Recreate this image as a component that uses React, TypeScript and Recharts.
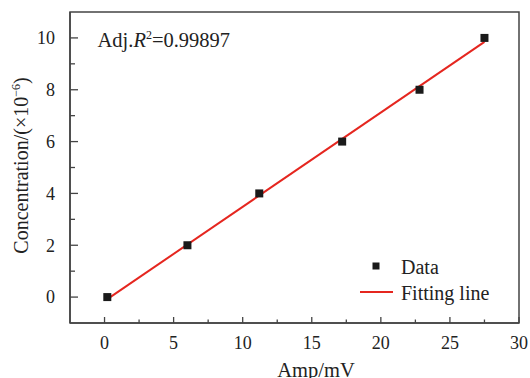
import React from 'react';
import { ComposedChart, Scatter, Line, XAxis, YAxis, ReferenceArea } from 'recharts';

// measured points
const ampValues = [0.2, 6.0, 11.2, 17.2, 22.8, 27.5];
const concValues = [0, 2, 4, 6, 8, 10];
// fitted line ends
const fitAmp = [0.2, 27.5];
const fitConc = [-0.08, 9.85];

const xMajorTicks = [0, 5, 10, 15, 20, 25, 30];
const xMinorTicks = [2.5, 7.5, 12.5, 17.5, 22.5, 27.5];
const yMajorTicks = [0, 2, 4, 6, 8, 10];
const yMinorTicks = [1, 3, 5, 7, 9];

const AXIS = '#444';
const RED = '#e5261f';
const FONT = '"Liberation Serif", "Times New Roman", serif';

const scatterData = ampValues.map((x, i) => ({ x, y: concValues[i] }));
const fitData = fitAmp.map((x, i) => ({ x, y: fitConc[i] }));
const xTicks = [...xMajorTicks, ...xMinorTicks].sort((a, b) => a - b);
const yTicks = [...yMajorTicks, ...yMinorTicks].sort((a, b) => a - b);

const XTick = (props: any) => {
  const { x, y, payload } = props;
  const major = xMajorTicks.includes(payload.value);
  return (
    <g>
      <line x1={x} x2={x} y1={y} y2={y - (major ? 6 : 3.5)} stroke={AXIS} strokeWidth={1.3} />
      {major && (
        <text x={x} y={y + 26} textAnchor="middle" fontSize={18} fill="#222" style={{ fontFamily: FONT }}>
          {payload.value}
        </text>
      )}
    </g>
  );
};

const YTick = (props: any) => {
  const { x, y, payload } = props;
  const major = yMajorTicks.includes(payload.value);
  return (
    <g>
      <line x1={x} x2={x + (major ? 8 : 5)} y1={y} y2={y} stroke={AXIS} strokeWidth={1.3} />
      {major && (
        <text x={x - 15} y={y + 6.4} textAnchor="end" fontSize={18} fill="#222" style={{ fontFamily: FONT }}>
          {payload.value}
        </text>
      )}
    </g>
  );
};

const SquareDot = (props: any) => {
  const { cx, cy } = props;
  return <rect x={cx - 4} y={cy - 4} width={8} height={8} fill="#1a1a1a" />;
};

export default function App() {
  return (
    <div style={{ position: 'absolute', left: 0, top: 0, width: 530, height: 378, fontFamily: FONT, background: '#fff' }}>
      <ComposedChart width={530} height={378} margin={{ top: 12, right: 11, left: 0, bottom: 0 }}>
        <XAxis
          dataKey="x"
          type="number"
          domain={[-2.5, 30]}
          ticks={xTicks}
          interval={0}
          height={55}
          tickSize={0}
          tickMargin={0}
          tickLine={false}
          axisLine={{ stroke: AXIS, strokeWidth: 1.5 }}
          tick={<XTick />}
          allowDataOverflow
        />
        <YAxis
          dataKey="y"
          type="number"
          domain={[-1, 11]}
          ticks={yTicks}
          interval={0}
          width={70}
          tickSize={0}
          tickMargin={0}
          tickLine={false}
          axisLine={{ stroke: AXIS, strokeWidth: 1.5 }}
          tick={<YTick />}
          allowDataOverflow
        />
        <ReferenceArea x1={-2.5} x2={30} y1={-1} y2={11} fill="none" stroke={AXIS} strokeWidth={1.5} />
        <Line
          data={fitData}
          dataKey="y"
          name="Fitting line"
          stroke={RED}
          strokeWidth={2}
          dot={false}
          isAnimationActive={false}
        />
        <Scatter
          data={scatterData}
          dataKey="y"
          name="Data"
          shape={<SquareDot />}
          isAnimationActive={false}
        />
      </ComposedChart>
      <svg
        width={530}
        height={378}
        style={{ position: 'absolute', left: 0, top: 0, pointerEvents: 'none', fontFamily: FONT }}
      >
        <text x={97.5} y={46.5} fontSize={20.5} fill="#222">
          Adj.<tspan fontStyle="italic">R</tspan>
          <tspan dy={-8} fontSize={12}>2</tspan>
          <tspan dy={8}>=0.99897</tspan>
        </text>
        <text transform="translate(27.5, 165.5) rotate(-90)" textAnchor="middle" fontSize={20} fill="#222">
          Concentration/(×10<tspan dy={-8} fontSize={12}>−6</tspan>
          <tspan dy={8}>)</tspan>
        </text>
        <text x={316} y={377} textAnchor="middle" fontSize={20.5} fill="#222">
          Amp/mV
        </text>
        {/* legend */}
        <rect x={372.5} y={262.5} width={7} height={7} fill="#1a1a1a" />
        <text x={401} y={274} fontSize={20} fill="#222">Data</text>
        <line x1={360} x2={393} y1={292} y2={292} stroke={RED} strokeWidth={2} />
        <text x={401} y={300} fontSize={20} fill="#222">Fitting line</text>
      </svg>
    </div>
  );
}
